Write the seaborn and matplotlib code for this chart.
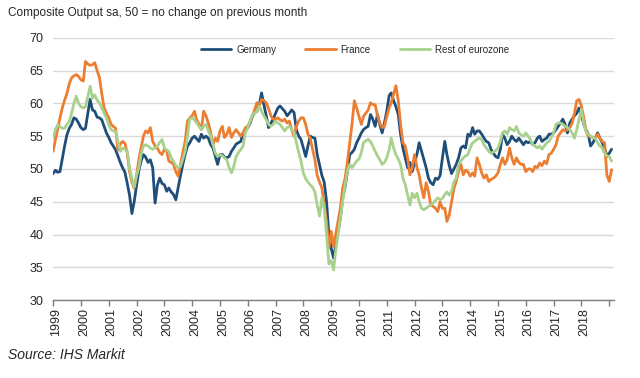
import matplotlib
matplotlib.use("Agg")
import matplotlib.pyplot as plt
import matplotlib.transforms as mtransforms
import numpy as np
import pandas as pd
import seaborn as sns

# ---------------- data (monthly, Jan 1999 - Feb 2019) ----------------
series_names = ["Germany", "France", "Rest of eurozone"]

germany = [
    49.3, 49.8, 49.5, 49.6, 51.5, 53.5, 55.2, 56.2, 56.8, 57.8, 57.6, 57.0,  # 1999
    56.3, 56.0, 56.2, 58.5, 60.6, 59.0, 58.8, 57.9, 57.8, 57.5, 56.5, 55.5,  # 2000
    54.8, 54.0, 53.5, 52.9, 52.0, 51.0, 50.2, 49.5, 47.8, 46.0, 43.2, 45.0,  # 2001
    47.5, 49.8, 51.2, 52.2, 51.8, 51.0, 51.4, 50.2, 44.8, 47.5, 48.6, 47.8,  # 2002
    47.6, 46.6, 47.1, 46.5, 46.1, 45.3, 47.1, 49.0, 50.7, 52.2, 53.5, 54.0,  # 2003
    54.7, 55.0, 54.6, 54.2, 55.3, 54.7, 55.0, 54.7, 53.7, 53.2, 51.9, 50.7,  # 2004
    52.2, 52.2, 51.8, 51.7, 51.9, 52.7, 53.2, 53.8, 54.0, 54.2, 55.5, 55.8,  # 2005
    56.3, 57.0, 58.0, 58.6, 58.8, 59.8, 61.6, 59.8, 58.1, 56.3, 57.0, 57.6,  # 2006
    58.5, 59.3, 59.6, 59.2, 58.8, 58.1, 58.5, 59.0, 58.6, 56.0, 55.0, 54.5,  # 2007
    53.2, 51.9, 53.5, 55.0, 54.8, 54.7, 52.2, 50.6, 49.0, 48.0, 45.0, 40.0,  # 2008
    37.9, 36.4, 38.4, 40.5, 42.5, 45.6, 47.2, 49.5, 52.2, 52.5, 53.0, 54.0,  # 2009
    54.7, 55.5, 56.0, 56.3, 56.5, 58.3, 57.6, 56.5, 58.3, 56.8, 55.5, 57.0,  # 2010
    58.8, 61.2, 61.6, 60.4, 59.5, 58.3, 55.3, 53.2, 51.7, 50.2, 51.0, 49.6,  # 2011
    51.0, 52.2, 54.0, 52.7, 51.5, 50.2, 48.6, 47.9, 47.6, 48.6, 48.4, 49.0,  # 2012
    51.7, 54.2, 52.2, 50.5, 49.3, 50.0, 50.7, 51.7, 53.2, 53.5, 53.2, 55.3,  # 2013
    55.0, 56.3, 55.3, 55.8, 55.8, 55.3, 54.7, 54.2, 54.0, 53.0, 52.4, 51.9,  # 2014
    51.7, 53.0, 55.3, 54.7, 53.7, 54.2, 55.0, 54.5, 54.2, 54.7, 54.2, 53.7,  # 2015
    54.2, 54.0, 54.2, 53.7, 54.0, 54.7, 55.0, 54.2, 54.5, 54.7, 55.3, 55.3,  # 2016
    55.5, 56.0, 56.5, 57.0, 57.6, 56.8, 55.5, 57.0, 57.6, 58.1, 58.5, 59.3,  # 2017
    58.1, 56.8, 56.0, 55.3, 53.5, 54.0, 54.7, 55.5, 54.7, 54.0, 53.2, 51.9,  # 2018
    52.4, 53.0,                                                              # 2019
]

france = [
    52.7, 54.5, 56.0, 57.8, 59.3, 60.5, 61.5, 63.0, 63.9, 64.2, 64.4, 64.1,  # 1999
    63.6, 63.4, 66.4, 66.0, 65.8, 65.9, 66.2, 65.0, 63.9, 61.5, 59.3, 58.5,  # 2000
    57.8, 56.8, 56.5, 56.2, 52.9, 53.8, 54.2, 53.9, 52.4, 49.6, 48.0, 47.1,  # 2001
    49.0, 51.5, 53.2, 55.0, 55.8, 55.5, 56.3, 54.2, 53.5, 53.2, 52.5, 52.2,  # 2002
    53.0, 52.7, 51.2, 51.0, 50.7, 49.6, 48.9, 50.7, 52.5, 54.2, 57.3, 57.8,  # 2003
    58.1, 58.8, 57.5, 56.8, 56.0, 58.8, 58.1, 57.0, 55.5, 53.7, 54.7, 54.2,  # 2004
    55.8, 56.5, 54.8, 55.3, 56.3, 54.8, 55.5, 56.0, 55.5, 55.0, 55.5, 56.3,  # 2005
    56.5, 57.3, 58.0, 59.0, 60.1, 59.6, 60.6, 60.4, 60.1, 59.2, 58.1, 57.6,  # 2006
    57.6, 57.8, 57.5, 57.3, 57.6, 57.0, 57.3, 56.0, 55.0, 56.5, 57.3, 57.8,  # 2007
    57.8, 56.8, 55.3, 54.7, 53.0, 51.4, 49.0, 48.0, 47.1, 44.5, 42.0, 37.9,  # 2008
    40.5, 38.2, 40.0, 42.0, 44.0, 47.1, 48.5, 51.0, 54.0, 56.8, 60.4, 59.3,  # 2009
    58.0, 56.8, 58.0, 58.5, 59.0, 60.1, 59.8, 59.8, 58.1, 57.0, 56.3, 56.5,  # 2010
    58.0, 59.3, 60.1, 61.4, 62.7, 60.4, 56.8, 54.0, 53.5, 51.7, 49.1, 50.2,  # 2011
    52.2, 50.2, 49.1, 47.1, 45.6, 47.9, 46.6, 44.5, 44.3, 44.0, 43.5, 45.0,  # 2012
    44.0, 44.0, 42.0, 43.0, 45.0, 47.0, 48.1, 49.6, 50.7, 49.1, 49.8, 49.6,  # 2013
    48.9, 49.4, 48.9, 51.7, 50.7, 49.4, 48.6, 49.1, 48.1, 48.4, 48.6, 48.9,  # 2014
    49.4, 50.7, 51.7, 50.7, 51.4, 53.2, 51.7, 50.7, 51.7, 51.0, 50.7, 50.7,  # 2015
    49.6, 50.0, 50.0, 49.6, 50.4, 50.2, 50.9, 50.5, 51.2, 50.8, 52.2, 52.4,  # 2016
    53.0, 53.7, 55.0, 55.5, 56.0, 55.8, 56.0, 56.3, 57.0, 58.5, 60.4, 60.6,  # 2017
    59.6, 57.8, 55.8, 55.0, 55.0, 54.8, 54.7, 55.3, 54.7, 54.2, 54.0, 49.1,  # 2018
    48.1, 49.9,                                                              # 2019
]

rest_eurozone = [
    54.7, 56.0, 56.7, 56.5, 56.2, 56.2, 56.8, 57.2, 58.5, 60.0, 61.1, 60.0,  # 1999
    59.5, 59.3, 59.5, 61.0, 62.6, 60.8, 61.3, 60.5, 60.1, 59.3, 58.5, 57.8,  # 2000
    56.7, 56.0, 55.8, 55.7, 54.2, 52.7, 53.2, 53.0, 52.7, 50.1, 48.5, 47.3,  # 2001
    49.0, 50.2, 52.2, 53.5, 53.7, 53.5, 53.2, 53.0, 53.2, 53.5, 54.0, 54.5,  # 2002
    53.2, 52.9, 52.7, 51.7, 51.2, 50.5, 50.2, 50.4, 51.5, 52.7, 55.0, 57.6,  # 2003
    57.8, 57.5, 57.0, 56.5, 56.0, 56.5, 56.8, 55.8, 55.0, 53.7, 52.4, 51.9,  # 2004
    52.2, 52.0, 51.7, 51.4, 50.2, 49.4, 50.4, 51.9, 52.5, 53.0, 53.5, 55.5,  # 2005
    56.3, 57.3, 58.3, 58.5, 58.8, 59.6, 58.8, 58.1, 57.5, 56.8, 56.5, 56.8,  # 2006
    57.3, 57.0, 56.8, 56.3, 55.8, 56.3, 56.5, 56.0, 55.5, 54.0, 52.5, 51.2,  # 2007
    49.4, 48.5, 48.0, 47.6, 47.2, 46.5, 44.5, 42.8, 45.6, 44.0, 40.0, 35.5,  # 2008
    36.0, 34.6, 37.5, 40.0, 42.5, 45.0, 47.5, 49.6, 50.7, 50.2, 50.7, 51.2,  # 2009
    51.5, 52.5, 54.0, 54.3, 54.5, 54.2, 53.5, 52.7, 52.0, 51.4, 50.7, 51.0,  # 2010
    51.7, 53.0, 54.7, 53.2, 52.2, 51.5, 50.7, 48.6, 47.6, 46.1, 44.5, 46.3,  # 2011
    45.6, 46.3, 45.0, 44.0, 43.8, 44.0, 44.3, 44.5, 44.8, 45.2, 45.6, 45.3,  # 2012
    45.5, 46.1, 46.5, 46.0, 46.6, 48.0, 48.6, 50.7, 51.2, 51.7, 52.0, 52.2,  # 2013
    53.2, 54.0, 54.2, 54.5, 54.7, 54.5, 53.7, 53.2, 52.7, 52.4, 52.6, 52.8,  # 2014
    53.2, 54.2, 55.5, 55.8, 55.3, 56.3, 56.0, 55.8, 56.5, 55.5, 55.2, 55.0,  # 2015
    55.5, 55.0, 54.5, 53.7, 53.5, 53.2, 53.5, 53.0, 53.5, 54.0, 54.2, 54.8,  # 2016
    55.5, 56.8, 57.0, 57.0, 56.8, 56.5, 56.3, 56.0, 55.5, 54.7, 56.0, 57.6,  # 2017
    59.1, 56.8, 55.8, 55.3, 55.0, 54.8, 54.7, 54.0, 53.5, 53.2, 52.4, 52.0,  # 2018
    51.9, 51.2,                                                              # 2019
]

year_labels = [str(y) for y in range(1999, 2019)]
y_ticks = [30, 35, 40, 45, 50, 55, 60, 65, 70]
title_text = "Composite Output sa, 50 = no change on previous month"
source_text = "Source: IHS Markit"
colors = {"Germany": "#1F4E79", "France": "#ED7D31", "Rest of eurozone": "#A9D18E"}

# ---------------- build table ----------------
dates = pd.date_range("1999-01-01", periods=len(germany), freq="MS")
wide = pd.DataFrame({"date": dates, "Germany": germany, "France": france,
                     "Rest of eurozone": rest_eurozone})
long = wide.melt(id_vars="date", var_name="series", value_name="value")

# ---------------- plot ----------------
sns.set_theme(style="white")
plt.rcParams["font.family"] = ["Liberation Sans", "DejaVu Sans"]

fig, ax = plt.subplots(figsize=(6.4, 3.78), dpi=100)
fig.subplots_adjust(left=0.083, right=0.96, top=0.9, bottom=0.206)

sns.lineplot(data=long, x="date", y="value", hue="series", hue_order=series_names,
             palette=colors, linewidth=2.0, ax=ax)

ax.set_ylim(30, 70)
ax.set_yticks(y_ticks)
ax.yaxis.grid(True, color="#d9d9d9", linewidth=1.0)
ax.set_axisbelow(True)
for s in ["left", "right", "top"]:
    ax.spines[s].set_visible(False)
ax.spines["bottom"].set_color("#7f7f7f")
ax.spines["bottom"].set_linewidth(1.0)

xt = pd.date_range("1999-01-01", "2019-01-01", freq="YS")
ax.set_xticks(xt)
ax.set_xticklabels(year_labels + [""], rotation=90)
ax.set_xlim(pd.Timestamp("1999-01-01"), pd.Timestamp("2019-03-10"))
ax.tick_params(axis="x", direction="out", length=4, width=1, color="#7f7f7f",
               labelsize=9, pad=2, bottom=True)
ax.tick_params(axis="y", length=0, labelsize=9, pad=7)
ax.set_xlabel("")
ax.set_ylabel("")

# nudge year labels slightly to the right of their ticks
offset = mtransforms.ScaledTranslation(3 / 100, 0, fig.dpi_scale_trans)
for lab in ax.get_xticklabels():
    lab.set_transform(lab.get_transform() + offset)

handles, labels = ax.get_legend_handles_labels()
leg = ax.legend(handles, labels, ncol=3, frameon=False, loc="center",
                bbox_to_anchor=(0.538, 0.955), fontsize=7, handlelength=3.1,
                columnspacing=3.0, handletextpad=0.5)
for h in leg.get_lines():
    h.set_linewidth(2.0)

fig.text(8 / 640, 1 - 13 / 378, title_text, fontsize=8.5, va="center", ha="left")
fig.text(8 / 640, 1 - 355 / 378, source_text, fontsize=10, style="italic",
         va="center", ha="left")

fig.savefig("out.png", dpi=100)
